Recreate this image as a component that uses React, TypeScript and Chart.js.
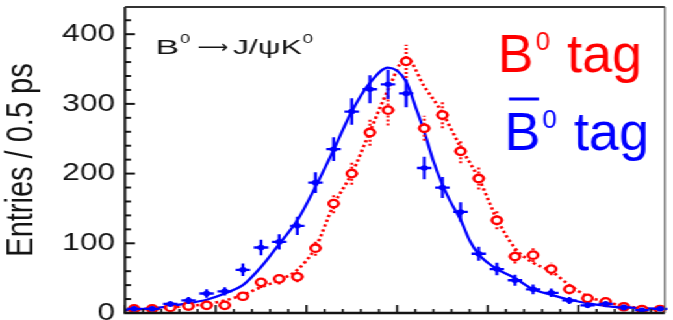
import { useEffect, useRef } from "react";
import { Chart, registerables } from "chart.js";

Chart.register(...registerables);

// Δt bin centres in ps (0.5 ps bins)
const dtBins = [
  -7.25, -6.75, -6.25, -5.75, -5.25, -4.75, -4.25, -3.75, -3.25, -2.75,
  -2.25, -1.75, -1.25, -0.75, -0.25, 0.25, 0.75, 1.25, 1.75, 2.25,
  2.75, 3.25, 3.75, 4.25, 4.75, 5.25, 5.75, 6.25, 6.75, 7.25,
];

// B0-tagged events per bin and their errors
const b0TagCounts = [
  6, 6, 8, 10, 11, 11, 24, 44, 49, 52,
  93, 157, 200, 259, 291, 361, 265, 284, 232, 193,
  133, 81, 83, 63, 34, 21, 16, 9, 5, 5,
];
const b0TagErrors = [
  3, 3, 3, 4, 4, 4, 6, 8, 8, 8,
  11, 14, 16, 19, 22, 24, 18, 19, 17, 16,
  13, 10, 10, 9, 7, 5, 5, 4, 3, 3,
];

// B0bar-tagged events per bin and their errors
const b0barTagCounts = [
  6, 6, 13, 18, 28, 31, 62, 94, 102, 125,
  187, 235, 289, 321, 328, 315, 208, 180, 145, 85,
  63, 47, 34, 29, 18, 11, 13, 8, 4, 6,
];
const b0barTagErrors = [
  3, 3, 4, 5, 6, 6, 9, 11, 11, 13,
  15, 17, 19, 20, 21, 20, 16, 15, 14, 10,
  9, 8, 7, 6, 5, 4, 4, 3, 2, 3,
];

// fitted Δt distributions
const b0TagFitDt = [
  -7.5, -7.25, -6.75, -6.25, -5.75, -5.25, -4.75, -4.25, -3.75, -3.25,
  -2.75, -2.25, -1.75, -1.25, -0.75, -0.25, 0.25, 0.75, 1.25, 1.75,
  2.25, 2.75, 3.25, 3.75, 4.25, 4.75, 5.25, 5.75, 6.25, 6.75, 7.25, 7.38,
];
const b0TagFitValues = [
  4, 5, 6, 8, 10, 13, 18, 26, 37, 47,
  62, 94, 155, 200, 260, 320, 366, 325, 287, 238,
  193, 135, 93, 72, 60, 40, 24, 16, 10, 7, 5, 5,
];
const b0barTagFitDt = [
  -7.5, -7.25, -6.75, -6.25, -5.75, -5.25, -4.75, -4.25, -3.75, -3.25,
  -2.75, -2.25, -1.75, -1.25, -0.75, -0.25, 0.25, 0.5, 0.75, 1.0,
  1.25, 1.5, 1.75, 2.0, 2.25, 2.5, 2.75, 3.25, 3.75, 4.25,
  4.75, 5.25, 5.75, 6.25, 6.75, 7.25, 7.38,
];
const b0barTagFitValues = [
  4, 5, 7, 10, 14, 19, 28, 40, 66, 99,
  133, 181, 234, 289, 330, 352, 332, 297, 260, 218,
  184, 157, 134, 104, 84, 72, 63, 50, 34, 26,
  19, 14, 10, 8, 7, 6, 5,
];

// axis setup
const dtMin = -7.5;
const dtMax = 7.38;
const dtMinorStep = 0.5;
const dtMajorEvery = 5;
const yMin = 0;
const yMax = 439;
const yTickValues = [0, 100, 200, 300, 400];
const yTickLabels = ["0", "100", "200", "300", "400"];
const yMinorStep = 20;
const yAxisTitle = "Entries / 0.5 ps";

const RED = "#ff0000";
const BLUE = "#0000ff";
const INK = "#141414";
const FONT = "'Liberation Sans', Arial, Helvetica, sans-serif";
const ARROW_FONT = "'DejaVu Sans', sans-serif";

// the figure is drawn on a narrower canvas and widened with CSS
const CANVAS_W = 518;
const CANVAS_H = 320;
const S = 673 / CANVAS_W;

type Piece = { text: string; size: number; x: number; y: number; sx?: number; family?: string };

const decayTitle: Piece[] = [
  { text: "B", size: 20.5, x: 119.6, y: 54, sx: 1.35 },
  { text: "0", size: 13, x: 138.6, y: 42.5, sx: 1.1 },
  { text: "⟶", size: 18, x: 152, y: 52.5, sx: 0.92, family: ARROW_FONT },
  { text: "J/ψK", size: 20.5, x: 179.3, y: 54, sx: 1.2 },
  { text: "0", size: 13, x: 233, y: 42.5, sx: 1.1 },
];

const b0TagLabel: Piece[] = [
  { text: "B", size: 54, x: 497.5, y: 72 },
  { text: "0", size: 26, x: 535.5, y: 50 },
  { text: "tag", size: 54, x: 567, y: 72 },
];
const b0barTagLabel: Piece[] = [
  { text: "B", size: 54, x: 504.5, y: 150 },
  { text: "0", size: 26, x: 542.5, y: 128 },
  { text: "tag", size: 54, x: 574, y: 150 },
];

function drawPieces(ctx: CanvasRenderingContext2D, pieces: Piece[], color: string) {
  ctx.fillStyle = color;
  ctx.textBaseline = "alphabetic";
  ctx.textAlign = "left";
  for (const p of pieces) {
    ctx.save();
    ctx.font = `${p.size}px ${p.family ?? FONT}`;
    ctx.translate(p.x, p.y);
    ctx.scale(p.sx ?? 1, 1);
    ctx.fillText(p.text, 0, 0);
    ctx.restore();
  }
}

const errorBarPlugin = {
  id: "errorBars",
  beforeDatasetDraw(chart: any, args: any) {
    const ds = chart.data.datasets[args.index];
    if (!ds.errors) return;
    const { ctx } = chart;
    const xs = chart.scales.x;
    const ys = chart.scales.y;
    ctx.save();
    ctx.strokeStyle = ds.borderColor;
    ctx.lineWidth = ds.errorWidth;
    ctx.setLineDash(ds.errorDash);
    ds.data.forEach((pt: { x: number; y: number }, i: number) => {
      const e = ds.errors[i];
      const px = xs.getPixelForValue(pt.x);
      const py = ys.getPixelForValue(pt.y);
      ctx.beginPath();
      ctx.moveTo(px, ys.getPixelForValue(pt.y - e));
      ctx.lineTo(px, ys.getPixelForValue(pt.y + e));
      ctx.moveTo(xs.getPixelForValue(pt.x - ds.xHalfWidth), py);
      ctx.lineTo(xs.getPixelForValue(pt.x + ds.xHalfWidth), py);
      ctx.stroke();
    });
    ctx.restore();
  },
};

const framePlugin = {
  id: "frameAndLabels",
  afterDraw(chart: any) {
    const { ctx, chartArea } = chart;
    const { left, right, top, bottom } = chartArea;
    const xs = chart.scales.x;
    const ys = chart.scales.y;
    ctx.save();
    ctx.strokeStyle = INK;

    // inward tick marks on the y axis
    ctx.lineWidth = 2;
    for (let v = yMin; v <= yMax; v += yMinorStep) {
      const y = ys.getPixelForValue(v);
      const len = v % 100 === 0 ? 7.7 : 4.6;
      ctx.beginPath();
      ctx.moveTo(left, y);
      ctx.lineTo(left + len, y);
      ctx.stroke();
    }
    // inward tick marks on the Δt axis
    ctx.lineWidth = 1.6;
    for (let k = 0; dtMin + k * dtMinorStep <= dtMax; k++) {
      const x = xs.getPixelForValue(dtMin + k * dtMinorStep);
      const len = k % dtMajorEvery === 0 ? 8 : 4;
      ctx.beginPath();
      ctx.moveTo(x, bottom);
      ctx.lineTo(x, bottom - len);
      ctx.stroke();
    }

    // frame
    ctx.lineWidth = 2.4;
    ctx.beginPath();
    ctx.moveTo(left - 1, bottom);
    ctx.lineTo(right, bottom);
    ctx.stroke();
    ctx.lineWidth = 2;
    ctx.beginPath();
    ctx.moveTo(left, bottom);
    ctx.lineTo(left, top);
    ctx.stroke();
    ctx.strokeStyle = "#333";
    ctx.beginPath();
    ctx.moveTo(left, top);
    ctx.lineTo(right, top);
    ctx.stroke();
    ctx.strokeStyle = "#555";
    ctx.lineWidth = 1.2;
    ctx.beginPath();
    ctx.moveTo(right, top);
    ctx.lineTo(right, bottom);
    ctx.stroke();

    // decay mode label
    drawPieces(ctx, decayTitle, INK);

    // tag labels, drawn in unwidened page coordinates
    ctx.scale(1 / S, 1);
    drawPieces(ctx, b0TagLabel, RED);
    drawPieces(ctx, b0barTagLabel, BLUE);
    ctx.fillStyle = BLUE;
    ctx.fillRect(509, 97.5, 30, 3);
    ctx.restore();
  },
};

export default function App() {
  const ref = useRef<HTMLCanvasElement>(null);

  useEffect(() => {
    const canvas = ref.current;
    if (!canvas) return;
    const chart = new Chart(canvas, {
      type: "scatter",
      data: {
        datasets: [
          {
            label: "B0bar tag",
            data: dtBins.map((x, i) => ({ x, y: b0barTagCounts[i] })),
            pointStyle: "circle",
            pointRadius: 2.8,
            backgroundColor: BLUE,
            borderColor: BLUE,
            borderWidth: 0,
            order: 0,
            errors: b0barTagErrors,
            errorWidth: 2.3,
            errorDash: [],
            xHalfWidth: 0.2,
          } as any,
          {
            label: "B0 tag",
            data: dtBins.map((x, i) => ({ x, y: b0TagCounts[i] })),
            pointStyle: "circle",
            pointRadius: 3.7,
            backgroundColor: "#ffffff",
            borderColor: RED,
            borderWidth: 2.3,
            order: 1,
            errors: b0TagErrors,
            errorWidth: 2.2,
            errorDash: [2, 2],
            xHalfWidth: 0.17,
          } as any,
          {
            label: "B0bar tag fit",
            data: b0barTagFitDt.map((x, i) => ({ x, y: b0barTagFitValues[i] })),
            showLine: true,
            pointRadius: 0,
            borderColor: BLUE,
            borderWidth: 2.3,
            cubicInterpolationMode: "monotone",
            order: 2,
          },
          {
            label: "B0 tag fit",
            data: b0TagFitDt.map((x, i) => ({ x, y: b0TagFitValues[i] })),
            showLine: true,
            pointRadius: 0,
            borderColor: RED,
            borderWidth: 2.6,
            borderDash: [2.4, 2.6],
            cubicInterpolationMode: "monotone",
            order: 3,
          },
        ],
      },
      options: {
        responsive: false,
        animation: false,
        devicePixelRatio: 1,
        layout: { padding: { top: 7, right: CANVAS_W - 670 / S, left: 0, bottom: 0 } },
        plugins: { legend: { display: false }, tooltip: { enabled: false } },
        scales: {
          x: {
            type: "linear",
            min: dtMin,
            max: dtMax,
            grid: { display: false, drawTicks: false },
            border: { display: false },
            ticks: { display: false },
            afterFit: (s: any) => {
              s.height = CANVAS_H - 313;
              s.paddingLeft = 0;
              s.paddingRight = 0;
            },
          },
          y: {
            type: "linear",
            min: yMin,
            max: yMax,
            afterBuildTicks: (s: any) => {
              s.ticks = yTickValues.map((value) => ({ value }));
            },
            grid: { display: false, drawTicks: false },
            border: { display: false },
            ticks: {
              autoSkip: false,
              padding: 7.5,
              color: INK,
              font: { family: FONT, size: 24.5 },
              callback: (v: any) => yTickLabels[yTickValues.indexOf(Number(v))],
            },
            title: {
              display: true,
              text: yAxisTitle,
              color: INK,
              font: { family: FONT, size: 29 },
              padding: 0,
            },
            afterFit: (s: any) => {
              s.width = 125 / S;
              s.paddingTop = 0;
              s.paddingBottom = 0;
            },
          },
        },
      },
      plugins: [errorBarPlugin, framePlugin],
    });
    return () => chart.destroy();
  }, []);

  return (
    <div
      style={{
        position: "fixed",
        left: 0,
        top: 0,
        width: CANVAS_W,
        height: CANVAS_H,
        transform: `scaleX(${S})`,
        transformOrigin: "0 0",
        background: "#ffffff",
      }}
    >
      <canvas
        ref={ref}
        width={CANVAS_W}
        height={CANVAS_H}
        style={{ display: "block", width: CANVAS_W, height: CANVAS_H }}
      />
    </div>
  );
}
